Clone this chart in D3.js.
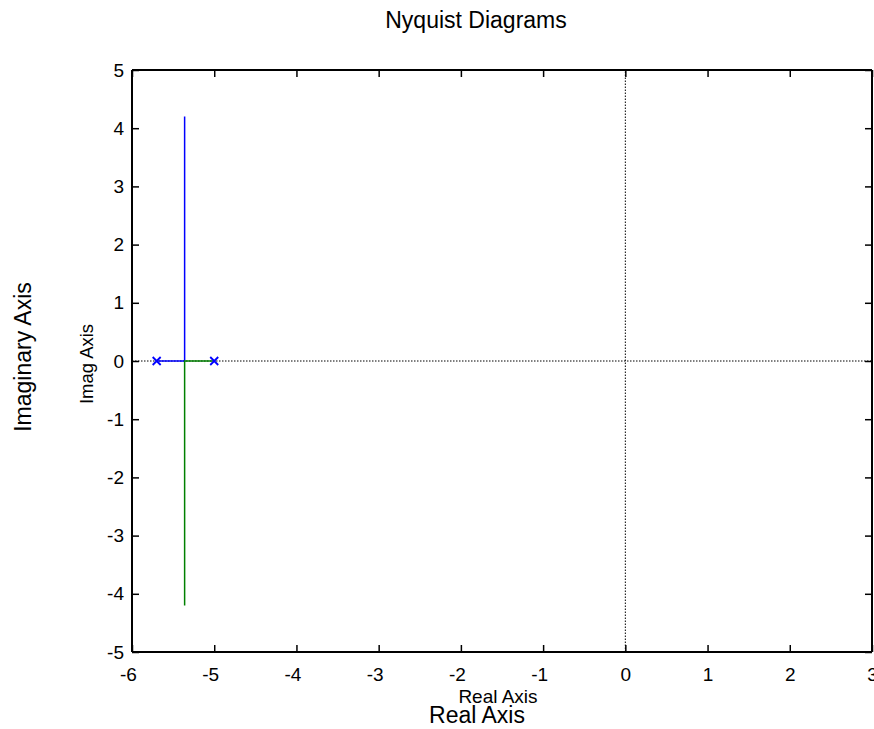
<!DOCTYPE html>
<html>
<head>
<meta charset="utf-8">
<script src="https://cdn.jsdelivr.net/npm/d3@7"></script>
<style>
  html, body { margin: 0; padding: 0; background: #fff; }
  svg { display: block; }
  text { font-family: "Liberation Sans", Arial, sans-serif; fill: #000; }
</style>
</head>
<body>
<svg id="chart" width="874" height="729"></svg>
<script>
// ---- data ----
const xTicks = [-6, -5, -4, -3, -2, -1, 0, 1, 2, 3];
const yTicks = [-5, -4, -3, -2, -1, 0, 1, 2, 3, 4, 5];
const blueRe = [-5.7, -5.36, -5.36];
const blueIm = [0, 0, 4.2];
const greenRe = [-5.0, -5.36, -5.36];
const greenIm = [0, 0, -4.2];
const markerRe = [-5.7, -5.0];
const markerIm = [0, 0];
const titleText = "Nyquist Diagrams";
const xLabelInner = "Real Axis";
const xLabelOuter = "Real Axis";
const yLabelInner = "Imag Axis";
const yLabelOuter = "Imaginary Axis";

// ---- layout ----
const pL = 132, pR = 872, pT = 70, pB = 652;
const svg = d3.select("#chart");
const x = d3.scaleLinear().domain([-6, 3]).range([pL, pR]);
const y = d3.scaleLinear().domain([-5, 5]).range([pB, pT]);
const tickLen = 7;
const fmt = d => String(d);

// dotted zero lines
svg.append("line").attr("x1", x(-6)).attr("x2", x(3)).attr("y1", y(0)).attr("y2", y(0))
  .attr("stroke", "#000").attr("stroke-width", 1).attr("stroke-dasharray", "1.5,1.5");
svg.append("line").attr("x1", x(0)).attr("x2", x(0)).attr("y1", y(-5)).attr("y2", y(5))
  .attr("stroke", "#000").attr("stroke-width", 1).attr("stroke-dasharray", "1.5,1.5");

const line = d3.line().x(d => x(d[0])).y(d => y(d[1]));
svg.append("path").datum(blueRe.map((r, i) => [r, blueIm[i]]))
  .attr("d", line).attr("fill", "none").attr("stroke", "#0000ff").attr("stroke-width", 1.5);
svg.append("path").datum(greenRe.map((r, i) => [r, greenIm[i]]))
  .attr("d", line).attr("fill", "none").attr("stroke", "#008000").attr("stroke-width", 1.5);

// x markers
const ms = 4;
markerRe.forEach((r, i) => {
  const cx = x(r), cy = y(markerIm[i]);
  svg.append("path")
    .attr("d", `M${cx - ms},${cy - ms}L${cx + ms},${cy + ms}M${cx - ms},${cy + ms}L${cx + ms},${cy - ms}`)
    .attr("stroke", "#0000ff").attr("stroke-width", 1.8).attr("fill", "none");
});

// axes with inner ticks on all four sides
const bottomAxis = d3.axisBottom(x).tickValues(xTicks).tickSize(-tickLen).tickPadding(16).tickFormat(fmt);
const topAxis = d3.axisTop(x).tickValues(xTicks).tickSize(-tickLen).tickFormat("");
const leftAxis = d3.axisLeft(y).tickValues(yTicks).tickSize(-tickLen).tickPadding(8).tickFormat(fmt);
const rightAxis = d3.axisRight(y).tickValues(yTicks).tickSize(-tickLen).tickFormat("");

function style(g) {
  g.select(".domain").attr("stroke", "#000").attr("stroke-width", 2);
  g.selectAll(".tick line").attr("stroke", "#000").attr("stroke-width", 1.5);
  g.selectAll(".tick text").attr("font-size", 19).attr("fill", "#000")
    .style("font-family", '"Liberation Sans", Arial, sans-serif');
}
svg.append("g").attr("transform", `translate(0,${pB})`).call(bottomAxis).call(style)
  .call(g => g.select(".domain").attr("d", `M${pL},0H${pR}`))
  .call(g => g.selectAll(".tick text").attr("dx", d => d < 0 ? -4 : 0));
svg.append("g").attr("transform", `translate(0,${pT})`).call(topAxis).call(style)
  .call(g => g.select(".domain").attr("d", `M${pL},0H${pR}`));
svg.append("g").attr("transform", `translate(${pL},0)`).call(leftAxis).call(style)
  .call(g => g.select(".domain").attr("d", `M0,${pT}V${pB}`));
svg.append("g").attr("transform", `translate(${pR},0)`).call(rightAxis).call(style)
  .call(g => g.select(".domain").attr("d", `M0,${pT}V${pB}`));

// titles
svg.append("text").attr("x", 476).attr("y", 28).attr("text-anchor", "middle")
  .attr("font-size", 23).text(titleText);
svg.append("text").attr("x", 498).attr("y", 703).attr("text-anchor", "middle")
  .attr("font-size", 19).text(xLabelInner);
svg.append("text").attr("x", 477).attr("y", 723).attr("text-anchor", "middle")
  .attr("font-size", 23).text(xLabelOuter);
svg.append("text").attr("transform", `translate(${93},${364}) rotate(-90)`)
  .attr("text-anchor", "middle").attr("font-size", 18.5).text(yLabelInner);
svg.append("text").attr("transform", `translate(${31},${357}) rotate(-90)`)
  .attr("text-anchor", "middle").attr("font-size", 23).text(yLabelOuter);
</script>
</body>
</html>
